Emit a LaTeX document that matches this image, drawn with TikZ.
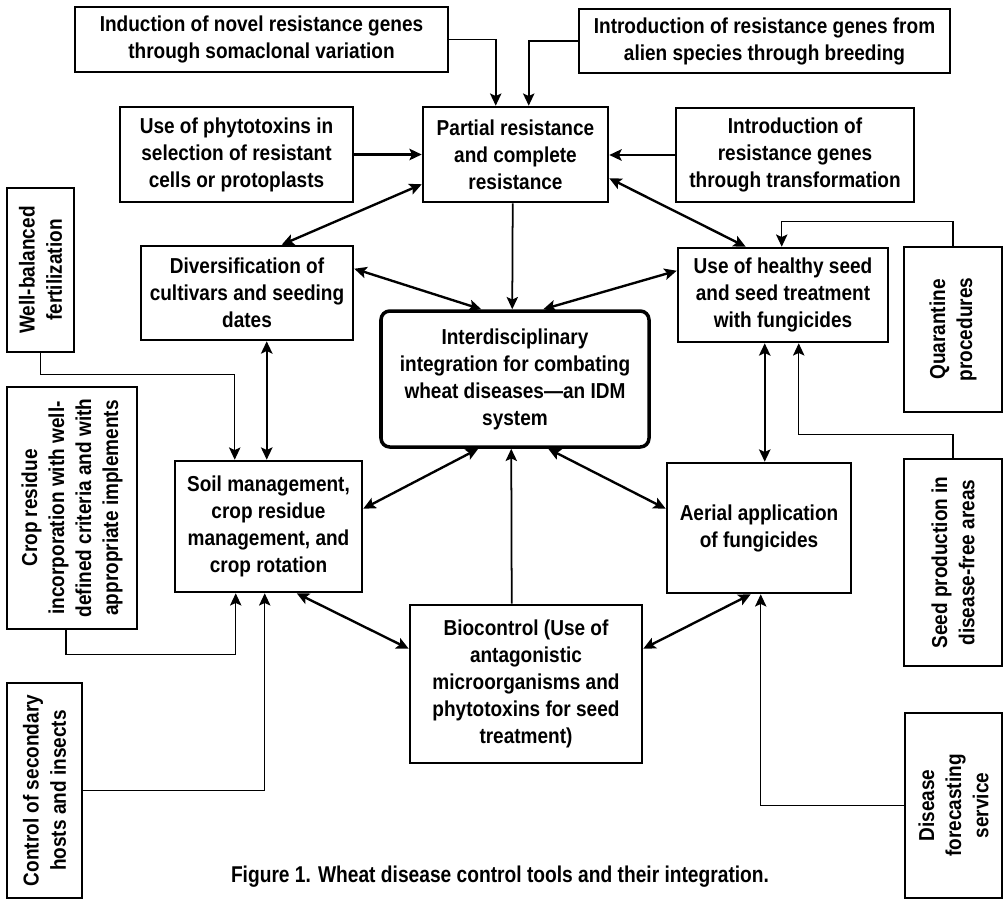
\documentclass[tikz,border=0pt]{standalone}
\usepackage{fontspec}
\setmainfont{Liberation Sans}[FakeStretch=0.88]
\newfontfamily\captfont{Liberation Sans}[FakeStretch=0.84]
\usetikzlibrary{arrows.meta,calc}
\tikzset{
  box/.style={draw, line width=1.45pt, align=center, inner sep=0pt,
    font=\fontsize{12.3}{15.4}\selectfont\bfseries},
  idmbox/.style={box, line width=2pt, rounded corners=5pt},
  tip/.tip={Stealth[length=7pt,width=6.5pt,inset=1.5pt]},
  conn/.style={line width=1pt, -tip},
  heavy/.style={line width=1.5pt, -tip},
  side/.style={line width=0.8pt, -tip},
  dbl/.style={line width=1.35pt, tip-tip},
  capt/.style={font=\fontsize{13}{15}\captfont\bfseries, inner sep=0pt}
}
\newcommand\bx[7][]{\node[box,#1, minimum width={(#5-#3)*0.02cm}, minimum height={(#6-#4)*0.02cm}] (#2) at ({(#3+#5)/2},{(#4+#6)/2}) {#7};}
\newcommand\rbx[6]{\node[box, rotate=90, minimum width={(#5-#3)*0.02cm}, minimum height={(#4-#2)*0.02cm}] (#1) at ({(#2+#4)/2},{(#3+#5)/2}) {#6};}
\begin{document}
\begin{tikzpicture}[x=0.02cm,y=-0.02cm]
\useasboundingbox[fill=white] (0,0) rectangle (1004,900);
% boxes
\bx{ind}{75}{7}{448}{72}{Induction of novel resistance genes\\through somaclonal variation}
\bx{alien}{579}{9}{950}{73}{Introduction of resistance genes from\\alien species through breeding}
\bx{phyto}{120}{107}{353}{202}{Use of phytotoxins in\\selection of resistant\\cells or protoplasts}
\bx{partial}{423}{107}{608}{202}{Partial resistance\\and complete\\resistance}
\bx{transf}{676}{108}{914}{202}{Introduction of\\resistance genes\\through transformation}
\bx{divers}{141}{246}{353}{340}{Diversification of\\cultivars and seeding\\dates}
\bx{healthy}{678}{248}{888}{342}{Use of healthy seed\\and seed treatment\\with fungicides}
\bx[idmbox]{idm}{381}{311}{649}{447}{Interdisciplinary\\integration for combating\\wheat diseases\textemdash an IDM\\system}
\bx{soil}{175}{461}{362}{592}{Soil management,\\crop residue\\management, and\\crop rotation}
\bx{aerial}{667}{463}{851}{593}{Aerial application\\of fungicides}
\bx{bio}{410}{605}{642}{763}{Biocontrol (Use of\\antagonistic\\microorganisms and\\phytotoxins for seed\\treatment)}
\rbx{wb}{7}{188}{74}{352}{Well-balanced\\fertilization}
\rbx{cr}{7}{387}{137}{629}{Crop residue\\incorporation with well-\\defined criteria and with\\appropriate implements}
\rbx{cs}{7}{683}{82}{898}{Control of secondary\\hosts and insects}
\rbx{q}{904}{247}{1002}{412}{Quarantine\\procedures}
\rbx{sp}{904}{459}{1002}{666}{Seed production in\\disease-free areas}
\rbx{df}{905}{713}{1002}{898}{Disease\\forecasting\\service}
\node[capt] (cap) at (500,877) {Figure 1. Wheat disease control tools and their integration.};
% connectors
\draw[conn] (ind.east) -| ($(partial.north west)+(74,0)$);
\draw[conn] (alien.west) -| ($(partial.north west)+(107,0)$);
\draw[heavy] (phyto.east) -- (phyto.east -| partial.west);
\draw[heavy] (transf.west) -- (transf.west -| partial.east);
\draw[dbl] ($(partial.south west)+(0,-19)$) -- ($(divers.north west)+(142,0)$);
\draw[dbl] ($(partial.south east)+(0,-25)$) -- ($(healthy.north west)+(69,0)$);
\draw[conn] ($(partial.south west)+(91,0)$) -- ($(idm.north west)+(133,0)$);
\draw[side] (q.east) -- ++(0,-24) -| ($(healthy.north west)+(105,0)$);
\draw[dbl] ($(divers.north east)+(0,24)$) -- ($(idm.north west)+(102,0)$);
\draw[dbl] ($(healthy.north west)+(0,24)$) -- ($(idm.north west)+(164,0)$);
\draw[side] (wb.west) -- ++(0,21) -| ($(soil.north west)+(61,0)$);
\draw[dbl] ($(divers.south west)+(127,0)$) -- ($(soil.north west)+(93,0)$);
\draw[side] ($(cr.west)+(-6,0)$) -- ++(0,24) -| ($(soil.south west)+(62,0)$);
\draw[side] (cs.south) -| ($(soil.south west)+(91,0)$);
\draw[dbl] ($(soil.north east)+(0,49)$) -- ($(idm.south west)+(99,0)$);
\draw[dbl] ($(idm.south west)+(169,0)$) -- ($(aerial.north west)+(0,47)$);
\draw[dbl] ($(healthy.south west)+(88,0)$) -- ($(aerial.north west)+(99,0)$);
\draw[side] (sp.east) -- ++(0,-23) -| ($(healthy.south west)+(122,0)$);
\draw[dbl] ($(soil.south west)+(123,0)$) -- ($(bio.north west)+(0,45)$);
\draw[dbl] ($(bio.north east)+(0,45)$) -- ($(aerial.south west)+(85,0)$);
\draw[conn] ($(bio.north west)+(103,0)$) -- ($(idm.south west)+(132,0)$);
\draw[side] (df.north) -| ($(aerial.south west)+(95,0)$);
\end{tikzpicture}
\end{document}
